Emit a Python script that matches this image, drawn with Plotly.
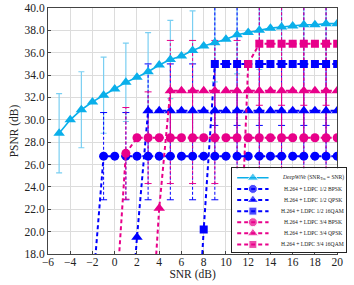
import plotly.graph_objects as go

# ---------------- data ----------------
snr_deep = [-5, -4, -3, -2, -1, 0, 1, 2, 3, 4, 5, 6, 7, 8, 9, 10, 11, 12, 13, 14, 15, 16, 17, 18, 19, 20]
psnr_deep = [28.8, 30.0, 30.9, 31.6, 32.2, 32.75, 33.35, 33.8, 34.3, 34.9, 35.4, 35.7, 36.2, 36.6, 36.9,
             37.2, 37.6, 37.8, 38.0, 38.2, 38.3, 38.4, 38.5, 38.5, 38.6, 38.6]
deep_err_snr = [-5, -3, -1, 1, 3, 5, 7, 9, 11, 13, 15, 17, 19]
deep_err = [3.55, 3.4, 3.4, 3.5, 3.5, 3.5, 3.55, 3.5, 3.5, 3.5, 3.5, 3.5, 3.5]

snr_b12 = [-2, -1, 0, 1, 2, 3, 4, 5, 6, 7, 8, 9, 10, 11, 12, 13, 14, 15, 16, 17, 18, 19, 20]
psnr_b12 = [14.6, 26.75, 26.75, 26.75, 26.75, 26.75, 26.75, 26.75, 26.75, 26.75, 26.75, 26.75, 26.75,
            26.75, 26.75, 26.75, 26.75, 26.75, 26.75, 26.75, 26.75, 26.75, 26.75]
b12_err_snr = [-1, 1, 3, 5, 7, 9, 11, 13, 15, 17, 19]
b12_err = [3.9, 3.9, 3.9, 3.9, 3.9, 3.9, 3.9, 3.9, 3.9, 3.9, 3.9]

snr_q12 = [1, 2, 3, 4, 5, 6, 7, 8, 9, 10, 11, 12, 13, 14, 15, 16, 17, 18, 19, 20]
psnr_q12 = [6.5, 19.5, 30.8, 30.8, 30.8, 30.8, 30.8, 30.8, 30.8, 30.8, 30.8, 30.8, 30.8, 30.8, 30.8,
            30.8, 30.8, 30.8, 30.8, 30.8]
q12_err_snr = [3, 5, 7, 9, 11, 13, 15, 17, 19]
q12_err = [4.2, 4.2, 4.2, 4.2, 4.2, 4.2, 4.2, 4.2, 4.2]

snr_m12 = [7, 8, 9, 10, 11, 12, 13, 14, 15, 16, 17, 18, 19, 20]
psnr_m12 = [3.0, 20.2, 35.0, 35.0, 35.0, 35.0, 35.0, 35.0, 35.0, 35.0, 35.0, 35.0, 35.0, 35.0]
m12_err_snr = [9, 11, 13, 15, 17, 19]
m12_err = [5.5, 5.5, 5.5, 5.5, 5.5, 5.5]

snr_b34 = [0, 1, 2, 3, 4, 5, 6, 7, 8, 9, 10, 11, 12, 13, 14, 15, 16, 17, 18, 19, 20]
psnr_b34 = [12.0, 27.0, 28.4, 28.4, 28.4, 28.4, 28.4, 28.4, 28.4, 28.4, 28.4, 28.4, 28.4, 28.4, 28.4,
            28.4, 28.4, 28.4, 28.4, 28.4, 28.4]
b34_err_snr = [1, 3, 5, 7, 9, 11, 13, 15, 17, 19]
b34_err = [4.1, 4.1, 4.1, 4.1, 4.1, 4.1, 4.1, 4.1, 4.1, 4.1]

snr_q34 = [3, 4, 5, 6, 7, 8, 9, 10, 11, 12, 13, 14, 15, 16, 17, 18, 19, 20]
psnr_q34 = [6.7, 22.1, 32.6, 32.6, 32.6, 32.6, 32.6, 32.6, 32.6, 32.6, 32.6, 32.6, 32.6, 32.6, 32.6,
            32.6, 32.6, 32.6]
q34_err_snr = [5, 7, 9, 11, 13, 15, 17, 19]
q34_err = [4.5, 4.5, 4.5, 4.5, 4.5, 4.5, 4.5, 4.5]

snr_m34 = [11, 12, 13, 14, 15, 16, 17, 18, 19, 20]
psnr_m34 = [10.0, 35.0, 36.8, 36.8, 36.8, 36.8, 36.8, 36.8, 36.8, 36.8]
m34_err_snr = [13, 15, 17, 19]
m34_err = [5.5, 5.5, 5.5, 5.5]

x_ticks = [-6, -4, -2, 0, 2, 4, 6, 8, 10, 12, 14, 16, 18, 20]
y_ticks = [18, 20, 22, 24, 26, 28, 30, 32, 34, 36, 38, 40]

deep_name = "<i>DeepWiVe</i> (SNR<sub>Tra</sub> = SNR)"
names = [
    "H.264 + LDPC 1/2 BPSK",
    "H.264 + LDPC 1/2 QPSK",
    "H.264 + LDPC 1/2 16QAM",
    "H.264 + LDPC 3/4 BPSK",
    "H.264 + LDPC 3/4 QPSK",
    "H.264 + LDPC 3/4 16QAM",
]

# ---------------- style ----------------
CYAN = "#0AAFEA"
CYAN_ERR = "#7ACFF2"
BLUE = "#0000FF"
MAG = "#E8008A"
FONT = "Liberation Serif"
DASH = "4px,3px"

W, H = 354, 285
ML, MR, MT, MB = 48, 2, 7, 31
PW = W - ML - MR
PH = H - MT - MB
PLOT_RIGHT_PX = 295          # main plot width in px
LEG_X0, LEG_X1 = 188, 304    # legend box (px from plot-area left)
LEG_Y0, LEG_Y1 = 2, 86       # legend box (px from plot-area bottom)
LEG_W, LEG_H = LEG_X1 - LEG_X0, LEG_Y1 - LEG_Y0

series = [
    (snr_b12, psnr_b12, b12_err_snr, b12_err, BLUE, "circle", 9),
    (snr_q12, psnr_q12, q12_err_snr, q12_err, BLUE, "triangle-up", 10),
    (snr_m12, psnr_m12, m12_err_snr, m12_err, BLUE, "square", 8),
    (snr_b34, psnr_b34, b34_err_snr, b34_err, MAG, "circle", 9),
    (snr_q34, psnr_q34, q34_err_snr, q34_err, MAG, "triangle-up", 10),
    (snr_m34, psnr_m34, m34_err_snr, m34_err, MAG, "square", 8),
]

fig = go.Figure()

# DeepWiVe error bars (solid)
deep_lookup = dict(zip(snr_deep, psnr_deep))
fig.add_trace(go.Scatter(
    x=deep_err_snr, y=[deep_lookup[s] for s in deep_err_snr],
    mode="markers", marker=dict(size=1, opacity=0),
    error_y=dict(type="data", array=deep_err, color=CYAN_ERR, thickness=1.2, width=3),
    showlegend=False, hoverinfo="skip"))

# H.264 error bars (dashed)
for (sx, sy, ex, ee, col, sym, sz) in series:
    lk = dict(zip(sx, sy))
    xs, ys, cx, cy = [], [], [], []
    for s, e in zip(ex, ee):
        xs += [s, s, None]
        ys += [lk[s] - e, lk[s] + e, None]
        cx += [s, s]
        cy += [lk[s] - e, lk[s] + e]
    fig.add_trace(go.Scatter(x=xs, y=ys, mode="lines",
                             line=dict(color=col, width=1, dash="3px,2px"),
                             showlegend=False, hoverinfo="skip"))
    fig.add_trace(go.Scatter(x=cx, y=cy, mode="markers",
                             marker=dict(symbol="line-ew", size=5, line=dict(color=col, width=1)),
                             showlegend=False, hoverinfo="skip"))

# DeepWiVe curve
fig.add_trace(go.Scatter(
    x=snr_deep, y=psnr_deep, mode="lines+markers", name=deep_name,
    line=dict(color=CYAN, width=1.6),
    marker=dict(symbol="triangle-up", size=10, color=CYAN), showlegend=False))

for (sx, sy, ex, ee, col, sym, sz), nm in zip(series, names):
    fig.add_trace(go.Scatter(
        x=sx, y=sy, mode="lines+markers", name=nm,
        line=dict(color=col, width=2, dash=DASH),
        marker=dict(symbol=sym, size=sz, color=col), showlegend=False))

# ---------------- legend box (own small axes, pixel units) ----------------
leg_entries = [(deep_name, CYAN, "triangle-up", 10, "solid", 1.6)] + [
    (nm, s[4], s[5], s[6], DASH, 2) for nm, s in zip(names, series)]
ROW0, ROWSTEP = 9.5, 11.15
for i, (nm, col, sym, sz, dash, lw) in enumerate(leg_entries):
    yy = ROW0 + ROWSTEP * i
    fig.add_trace(go.Scatter(
        x=[5, 21, 37], y=[yy, yy, yy], xaxis="x2", yaxis="y2",
        mode="lines+markers", line=dict(color=col, width=lw, dash=dash),
        marker=dict(symbol=sym, size=[0, sz, 0], color=col),
        showlegend=False, hoverinfo="skip"))
    fig.add_annotation(x=82, y=yy, xref="x2", yref="y2", text=nm, showarrow=False,
                       xanchor="center", yanchor="middle",
                       font=dict(family=FONT, size=5.6, color="#222"))

axis_common = dict(
    showline=True, linecolor="#444", linewidth=1, mirror=True,
    showgrid=True, gridcolor="#dcdcdc", gridwidth=1,
    ticks="inside", ticklen=3, tickcolor="#444",
    zeroline=False,
    tickfont=dict(family=FONT, size=11.5, color="#222"),
)

fig.update_layout(
    width=W, height=H,
    margin=dict(l=ML, r=MR, t=MT, b=MB),
    paper_bgcolor="white", plot_bgcolor="white",
    font=dict(family=FONT, color="#222"),
    showlegend=False,
    hovermode=False,
    xaxis=dict(domain=[0, PLOT_RIGHT_PX / PW], range=[-6, 20], tickvals=x_ticks,
               ticklabelstandoff=-3,
               title=dict(text="SNR (dB)", font=dict(family=FONT, size=11.5), standoff=1),
               **axis_common),
    yaxis=dict(range=[18, 40], tickvals=y_ticks, tickformat=".1f",
               title=dict(text="PSNR (dB)", font=dict(family=FONT, size=11.5), standoff=3),
               **axis_common),
    xaxis2=dict(domain=[LEG_X0 / PW, LEG_X1 / PW], anchor="y2", range=[0, LEG_W],
                showline=True, mirror=True, linecolor="#222", linewidth=1,
                showgrid=False, zeroline=False, showticklabels=False, ticks="", fixedrange=True),
    yaxis2=dict(domain=[LEG_Y0 / PH, LEG_Y1 / PH], anchor="x2", range=[LEG_H, 0],
                showline=True, mirror=True, linecolor="#222", linewidth=1,
                showgrid=False, zeroline=False, showticklabels=False, ticks="", fixedrange=True),
)

# remove the default 8px page margin so the figure fills the window exactly
fig.write_html("out.html", config={"displayModeBar": False, "staticPlot": True},
               post_script="document.body.style.margin='0px';")
